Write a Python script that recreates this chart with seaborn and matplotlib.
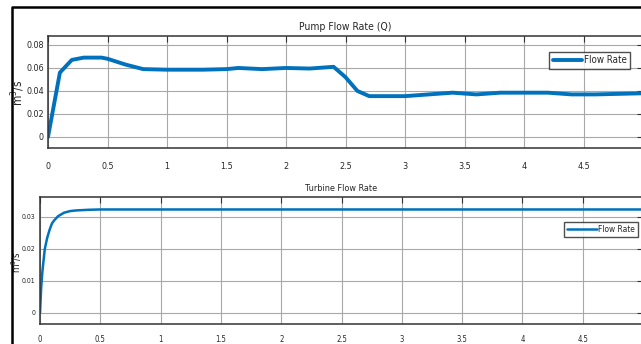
import matplotlib
matplotlib.use("Agg")
import matplotlib.pyplot as plt
import pandas as pd
import seaborn as sns
from matplotlib.lines import Line2D

# pump flow rate (s, m^3/s)
pump_t = [0, 0.1, 0.2, 0.3, 0.45, 0.5, 0.65, 0.8, 1.0, 1.3, 1.5, 1.6, 1.8, 2.0,
          2.2, 2.4, 2.5, 2.6, 2.7, 3.0, 3.2, 3.4, 3.6, 3.8, 4.0, 4.2, 4.4, 4.6,
          4.8, 5.0]
pump_q = [0, 0.056, 0.067, 0.069, 0.069, 0.068, 0.063, 0.059, 0.0585, 0.0585,
          0.059, 0.060, 0.059, 0.060, 0.0595, 0.061, 0.052, 0.040, 0.0355,
          0.0355, 0.037, 0.0385, 0.037, 0.0385, 0.0385, 0.0385, 0.037, 0.037,
          0.0375, 0.038]

# turbine flow rate
turb_t = [0, 0.01, 0.02, 0.04, 0.06, 0.08, 0.1, 0.12, 0.15, 0.2, 0.25, 0.3,
          0.4, 0.5, 1.0, 2.0, 3.0, 4.0, 5.0]
turb_q = [0, 0.008, 0.013, 0.020, 0.0235, 0.026, 0.028, 0.029, 0.0302, 0.0313,
          0.0318, 0.032, 0.0322, 0.0323, 0.0323, 0.0323, 0.0323, 0.0323, 0.0323]

pump_ticks = [0, 0.02, 0.04, 0.06, 0.08]
turb_ticks = [0, 0.01, 0.02, 0.03]
x_ticks = [0, 0.5, 1, 1.5, 2, 2.5, 3, 3.5, 4, 4.5, 5]
x_labels = ["0", "0.5", "1", "1.5", "2", "2.5", "3", "3.5", "4", "4.5", ""]

sns.set_style("whitegrid")
plt.rcParams["font.family"] = ["DejaVu Sans"]
plt.rcParams["font.stretch"] = "condensed"

blue = "#0072BD"
W, H = 641, 344
fig = plt.figure(figsize=(W / 100, H / 100), dpi=100)

def px(l, t, r, b):
    return [l / W, 1 - b / H, (r - l) / W, (b - t) / H]

ax1 = fig.add_axes(px(48, 36, 643, 148))
ax2 = fig.add_axes(px(40, 197, 643, 324))

df1 = pd.DataFrame({"t": pump_t, "q": pump_q})
df2 = pd.DataFrame({"t": turb_t, "q": turb_q})
sns.lineplot(data=df1, x="t", y="q", ax=ax1, color=blue, lw=2.8, label="Flow Rate")
sns.lineplot(data=df2, x="t", y="q", ax=ax2, color=blue, lw=1.8, label="Flow Rate")

def style(ax, yt, ylim, fs, yfs, xpad, title, tfs, legpos, hl, lab_xy, lfs):
    ax.set_xlim(0, 5)
    ax.set_ylim(*ylim)
    ax.set_xticks(x_ticks)
    ax.set_xticklabels(x_labels)
    ax.set_yticks(yt)
    ax.set_yticklabels([("%g" % v) for v in yt])
    ax.grid(True, color="#a8a8a8", lw=0.8)
    for s in ax.spines.values():
        s.set_color("#333333")
        s.set_linewidth(1.1)
        s.set_visible(True)
    ax.tick_params(axis="both", direction="in", length=4, width=0.8,
                   color="#333333", labelsize=fs, top=True, right=True)
    ax.tick_params(axis="x", pad=xpad)
    ax.tick_params(axis="y", pad=3, labelsize=yfs)
    ax.set_xlabel("")
    ax.set_ylabel("m$^3$/s", fontsize=lfs)
    ax.yaxis.set_label_coords(*lab_xy)
    ax.set_title(title, fontsize=tfs, pad=4)
    leg = ax.legend(loc="upper right", bbox_to_anchor=legpos, fontsize=fs + 0.5,
                    frameon=True, fancybox=False, handlelength=hl,
                    borderpad=0.35, handletextpad=0.2, borderaxespad=0)
    leg.get_frame().set_edgecolor("#222222")
    leg.get_frame().set_linewidth(1.0)

style(ax1, pump_ticks, (-0.0096, 0.0878), 6.5, 6.5, 10, "Pump Flow Rate (Q)", 7.5,
      (0.978, 0.857), 3.0, (-0.035, 0.49), 8.5)
style(ax2, turb_ticks, (-0.0035, 0.0362), 5.5, 5, 8, "Turbine Flow Rate", 6.5,
      (0.992, 0.803), 3.6, (-0.026, 0.49), 7)

# black frame of the cropped figure
fig.add_artist(Line2D([12 / W, 12 / W, 1], [0, 1 - 7 / H, 1 - 7 / H],
                      transform=fig.transFigure, color="black", lw=1.8))

fig.savefig("out.png", dpi=100)
